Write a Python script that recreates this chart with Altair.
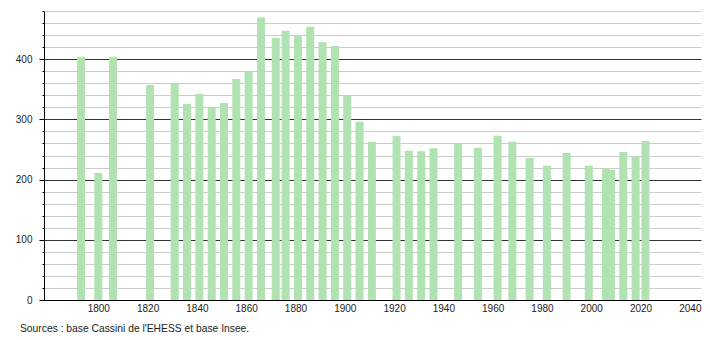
import altair as alt
import pandas as pd

# Census years and population
years = [1793, 1800, 1806, 1821, 1831, 1836, 1841, 1846, 1851, 1856,
         1861, 1866, 1872, 1876, 1881, 1886, 1891, 1896, 1901, 1906,
         1911, 1921, 1926, 1931, 1936, 1946, 1954, 1962, 1968, 1975,
         1982, 1990, 1999, 2006, 2008, 2013, 2018, 2022]
population = [404, 211, 404, 357, 360, 326, 342, 320, 327, 367,
              380, 469, 435, 447, 440, 454, 428, 422, 340, 296,
              263, 273, 248, 247, 252, 260, 253, 273, 263, 236,
              223, 244, 223, 219, 216, 246, 238, 264]

x_tick_labels = [1800, 1820, 1840, 1860, 1880, 1900, 1920, 1940, 1960, 1980, 2000, 2020, 2040]
y_ticks = list(range(0, 481, 20))
source_text = ["Sources : base Cassini de l'EHESS et base Insee."]

df = pd.DataFrame({"year": years, "population": population})

FONT = "Liberation Sans"

x_scale = alt.Scale(domain=[1780, 2042.5], nice=False, zero=False)
y_scale = alt.Scale(domain=[0, 480], nice=False)

bars = alt.Chart(df).mark_bar(size=8, color="#b1e2b1").encode(
    x=alt.X(
        "year:Q",
        scale=x_scale,
        axis=alt.Axis(
            values=x_tick_labels,
            title=None,
            grid=False,
            ticks=False,
            format="d",
            labelFont=FONT,
            labelFontSize=10,
            labelColor="#222",
            labelPadding=3,
            labelFlush=False,
            labelOverlap=False,
            domainColor="#000",
        ),
    ),
    y=alt.Y(
        "population:Q",
        scale=y_scale,
        axis=alt.Axis(
            values=y_ticks,
            title=None,
            format="d",
            labelExpr="datum.value % 100 === 0 && datum.value <= 400 ? datum.label : ''",
            labelFont=FONT,
            labelFontSize=10,
            labelColor="#222",
            labelPadding=7,
            labelFlush=False,
            labelOverlap=False,
            grid=True,
            gridColor={"condition": {"test": "datum.value % 100 === 0", "value": "#333333"}, "value": "#cccccc"},
            gridWidth=1,
            tickColor="#000",
            tickSize={"condition": {"test": "datum.value % 100 === 0", "value": 5}, "value": 2},
            domainColor="#000",
        ),
    ),
)

src = alt.Chart(pd.DataFrame({"t": source_text})).mark_text(
    align="left", baseline="middle", fontSize=10.3, font=FONT, color="#222"
).encode(
    x=alt.value(-24),
    y=alt.value(318),
    text="t:N",
)

chart = alt.layer(bars, src).properties(
    width=657,
    height=289,
    padding={"left": 44, "top": 11, "right": 9, "bottom": 40},
    autosize=alt.AutoSizeParams(type="none"),
    background="white",
).configure_view(strokeWidth=0)

chart.save("out.html", embed_options={"renderer": "svg", "actions": False})
